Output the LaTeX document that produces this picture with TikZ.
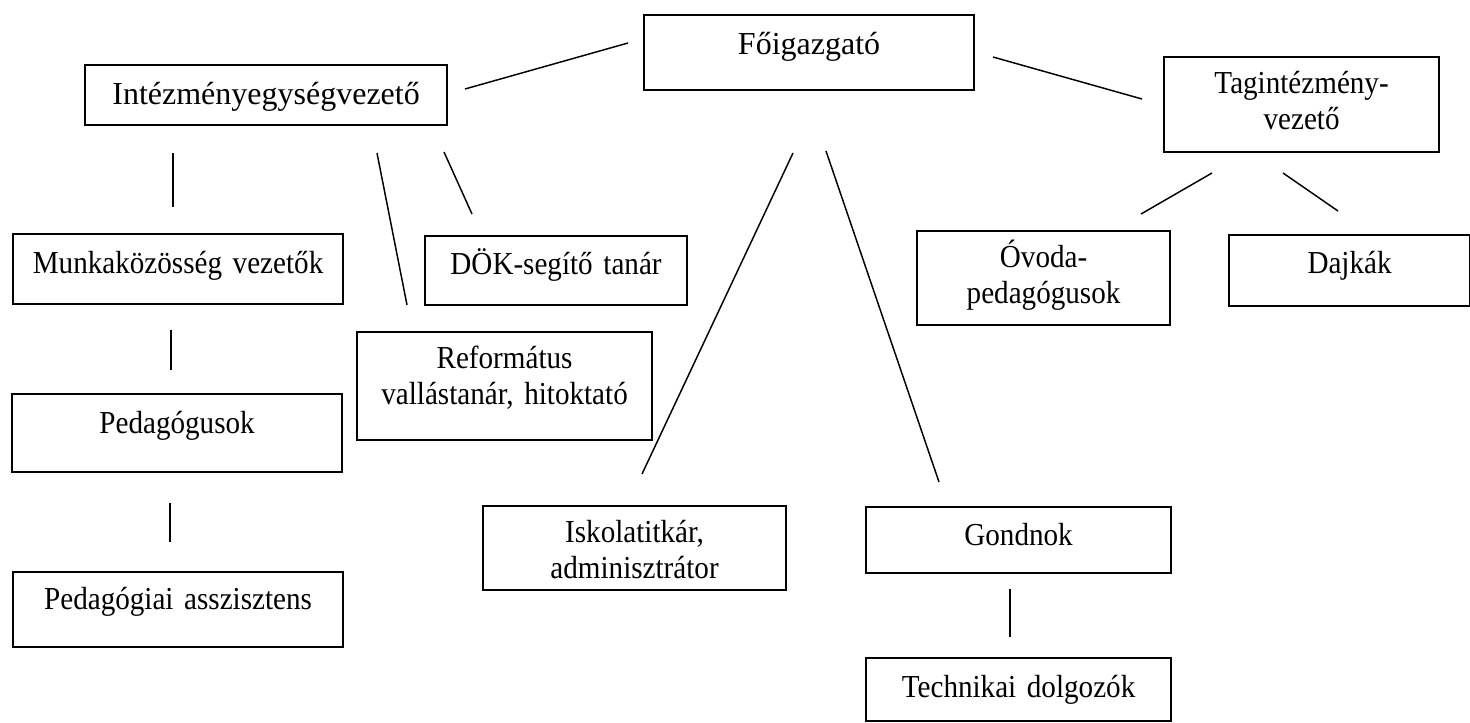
\documentclass[tikz,border=0pt]{standalone}
\usepackage{fontspec}
\setmainfont{Liberation Serif}[FakeStretch=0.91]
\newfontfamily\headfont{Liberation Serif}
\usetikzlibrary{positioning}

\begin{document}
\begin{tikzpicture}[
    x=0.375pt, y=-0.375pt,
    font=\fontsize{12pt}{13.5pt}\selectfont,
    unit/.style={draw=black, line width=0.8pt, inner sep=0pt, align=center, anchor=north west},
    head/.style={unit, font=\headfont\fontsize{12pt}{13.5pt}\selectfont},
    boxdim/.style n args={3}{text width=#1pt, text height=#2pt, text depth=#3pt},
    link/.style={line width=0.55pt, black},
]
  \useasboundingbox (0,0) rectangle (1470,722);
  %% top level
  \node[head, boxdim={123.75}{14.625}{13.5}] (fo) at (643,14) {Főigazgató};
  \node[head, boxdim={135.75}{14.625}{7.875}] (ieg) at (84,64) {Intézményegységvezető};
  \node[unit, boxdim={103.125}{13.5}{22.125}] (tag) at (1163,56) {Tagintézmény-\\vezető};
  %% left column
  \node[unit, boxdim={123.75}{14.625}{11.625}] (mkv) at (12,233) {Munkaközösség vezetők};
  \node[unit, boxdim={123.75}{14.625}{14.625}] (ped) at (11,393) {Pedagógusok};
  \node[unit, boxdim={123.75}{13.875}{14.25}] (pas) at (12,571) {Pedagógiai asszisztens};
  %% under the unit leader
  \node[unit, boxdim={98.25}{14.25}{11.625}] (dok) at (424,235) {DÖK-segítő tanár};
  \node[unit, boxdim={110.625}{13.5}{27}] (ref) at (356,331) {Református\\vallástanár, hitoktató};
  %% under the director
  \node[unit, boxdim={113.625}{13.5}{18}] (isk) at (482,505) {Iskolatitkár,\\adminisztrátor};
  \node[unit, boxdim={114.375}{14.25}{10.5}] (gon) at (865,506) {Gondnok};
  \node[unit, boxdim={114.375}{14.625}{9}] (tech) at (865,657) {Technikai dolgozók};
  %% kindergarten
  \node[unit, boxdim={94.875}{13.5}{21.75}] (ovo) at (916,230) {Óvoda-\\pedagógusok};
  \node[unit, boxdim={90.375}{14.25}{12.375}] (daj) at (1228,234) {Dajkák};
  %% connector ends (the strokes stand free between the boxes)
  \coordinate (ieg-fo-a) at (465,89);   \coordinate (ieg-fo-b) at (628,43);
  \coordinate (fo-tag-a) at (993,57);   \coordinate (fo-tag-b) at (1142,99);
  \coordinate (ieg-mkv-a) at (173,153); \coordinate (ieg-mkv-b) at (173,207);
  \coordinate (ieg-ref-a) at (377,153); \coordinate (ieg-ref-b) at (407,305);
  \coordinate (ieg-dok-a) at (444,152); \coordinate (ieg-dok-b) at (472,214);
  \coordinate (fo-isk-a) at (793,153);  \coordinate (fo-isk-b) at (642,474);
  \coordinate (fo-gon-a) at (826,151);  \coordinate (fo-gon-b) at (939,482);
  \coordinate (tag-ovo-a) at (1212,173); \coordinate (tag-ovo-b) at (1141,214);
  \coordinate (tag-daj-a) at (1283,173); \coordinate (tag-daj-b) at (1338,211);
  \coordinate (mkv-ped-a) at (171,330); \coordinate (mkv-ped-b) at (171,370);
  \coordinate (ped-pas-a) at (170,503); \coordinate (ped-pas-b) at (170,542);
  \coordinate (gon-tech-a) at (1010,589); \coordinate (gon-tech-b) at (1010,637);
  \foreach \pair in {ieg-fo,fo-tag,ieg-mkv,ieg-ref,ieg-dok,fo-isk,fo-gon,tag-ovo,tag-daj,mkv-ped,ped-pas,gon-tech}
    \draw[link] (\pair-a) -- (\pair-b);
\end{tikzpicture}
\end{document}
